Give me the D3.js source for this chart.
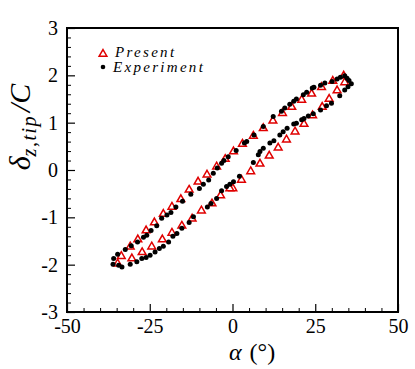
<!DOCTYPE html>
<html>
<head>
<meta charset="utf-8">
<script src="https://cdn.jsdelivr.net/npm/d3@7"></script>
<style>
  html, body { margin: 0; padding: 0; background: #fff; }
  svg { display: block; }
  svg text { font-family: "Liberation Serif", "Times New Roman", Times, "DejaVu Serif", serif; }
</style>
</head>
<body>
<svg id="chart" width="415" height="369"></svg>
<script>
// ---- Data ----
const xTicks = [-50, -25, 0, 25, 50];
const yTicks = [-3, -2, -1, 0, 1, 2, 3];

const presentAlpha = [-34.7, -33.6, -30.9, -28.6, -26.1, -23.6, -20.9, -18.3, -15.6, -13.1, -10.4, -7.7, -4.8, -2.2, 0.3, 3.0, 6.3, 9.3, 12.2, 15.1, 17.9, 20.9, 23.9, 26.9, 30.3, 33.6,
  33.9, 31.6, 29.2, 27.1, 24.2, 21.6, 18.9, 16.3, 13.8, 11.1, 8.3, 5.5, 2.7, 0.1, -0.8, -3.6, -6.2, -9.4, -12.2, -15.3, -18.3, -21.2, -24.4, -27.3, -30.4];
const presentDelta = [-1.98, -1.82, -1.62, -1.47, -1.28, -1.11, -0.93, -0.78, -0.62, -0.42, -0.25, -0.10, 0.07, 0.23, 0.39, 0.55, 0.72, 0.88, 1.04, 1.20, 1.33, 1.48, 1.61, 1.75, 1.88, 1.99,
  1.85, 1.68, 1.50, 1.33, 1.15, 0.97, 0.81, 0.64, 0.47, 0.30, 0.13, -0.03, -0.21, -0.39, -0.39, -0.54, -0.71, -0.86, -1.03, -1.18, -1.33, -1.47, -1.62, -1.74, -1.87];

const expAlpha = [-35.9, -34.7, -32.4, -30.6, -28.7, -26.9, -25.9, -24.6, -22.9, -21.4, -19.8, -18.6, -17.1, -15.1, -12.6, -10.0, -8.8, -7.2, -5.8, -4.6, -3.3, -2.6, -1.3, 1.1, 3.6, 4.3, 6.5, 9.3, 12.3, 14.8, 15.8, 17.3, 18.5, 19.3, 21.4, 22.4, 24.1, 24.6, 26.6, 27.9, 30.1, 31.6, 32.6, 33.9, 34.6, 35.2, 35.9,
  34.9, 33.9, 32.4, 29.9, 28.4, 26.6, 24.4, 22.9, 21.6, 20.9, 19.3, 18.5, 16.5, 15.3, 14.3, 12.5, 11.3, 9.3, 8.3, 7.8, 6.3, 2.1, 0.3, -0.8, -1.8, -3.3, -4.8, -6.5, -7.6, -11.8, -13.1, -15.3, -16.8, -18.0, -19.3, -20.9, -22.1, -23.4, -24.9, -26.1, -27.4, -28.9, -30.9, -33.4, -34.4, -36.1];
const expDelta = [-1.87, -1.78, -1.68, -1.60, -1.52, -1.42, -1.38, -1.28, -1.18, -1.02, -0.95, -0.90, -0.78, -0.66, -0.51, -0.39, -0.30, -0.21, -0.07, 0.04, 0.14, 0.20, 0.28, 0.41, 0.57, 0.60, 0.74, 0.92, 1.13, 1.24, 1.31, 1.39, 1.45, 1.50, 1.59, 1.64, 1.73, 1.75, 1.79, 1.84, 1.87, 1.92, 1.96, 1.99, 1.94, 1.89, 1.82,
  1.76, 1.69, 1.57, 1.41, 1.36, 1.27, 1.19, 1.14, 1.09, 1.06, 0.99, 0.97, 0.88, 0.81, 0.74, 0.62, 0.57, 0.46, 0.39, 0.32, 0.16, -0.13, -0.25, -0.30, -0.35, -0.44, -0.60, -0.71, -0.78, -0.99, -1.11, -1.23, -1.34, -1.40, -1.52, -1.61, -1.66, -1.73, -1.80, -1.85, -1.87, -1.94, -1.99, -2.05, -2.01, -1.99];

const seriesNames = ["Present", "Experiment"];

// ---- Layout ----
const svg = d3.select("#chart");
const L = 67, R = 398, T = 28, B = 312;
const x = d3.scaleLinear().domain([-50, 50]).range([L, R]);
const y = d3.scaleLinear().domain([-3, 3]).range([B, T]);
const fmt = d => String(d);

const xMinor = d3.range(-50, 50.001, 5);
const yMinor = d3.range(-3, 3.001, 0.2);

// Bottom axis (ticks inward)
const xAxis = d3.axisBottom(x).tickValues(xTicks).tickSize(-8).tickPadding(7).tickFormat(fmt);
const gx = svg.append("g").attr("transform", `translate(0,${B})`).call(xAxis).attr("font-family", null);
gx.select(".domain").remove();
gx.selectAll(".tick line").attr("stroke", "#000").attr("stroke-width", 1.2);
gx.selectAll(".tick text").attr("font-size", 20).attr("fill", "#000");
const gxm = svg.append("g").attr("transform", `translate(0,${B})`)
  .call(d3.axisBottom(x).tickValues(xMinor.filter(v => !xTicks.includes(Math.round(v)))).tickSize(-4).tickFormat(""));
gxm.select(".domain").remove();
gxm.selectAll(".tick line").attr("stroke", "#000").attr("stroke-width", 1);

// Left axis
const yAxis = d3.axisLeft(y).tickValues(yTicks).tickSize(-8).tickPadding(9).tickFormat(fmt);
const gy = svg.append("g").attr("transform", `translate(${L},0)`).call(yAxis).attr("font-family", null);
gy.select(".domain").remove();
gy.selectAll(".tick line").attr("stroke", "#000").attr("stroke-width", 1.2);
gy.selectAll(".tick text").attr("font-size", 20).attr("fill", "#000");
const gym = svg.append("g").attr("transform", `translate(${L},0)`)
  .call(d3.axisLeft(y).tickValues(yMinor.filter(v => Math.abs(v - Math.round(v)) > 0.01)).tickSize(-4).tickFormat(""));
gym.select(".domain").remove();
gym.selectAll(".tick line").attr("stroke", "#000").attr("stroke-width", 1);

// Frame
svg.append("rect").attr("x", L).attr("y", T).attr("width", R - L).attr("height", B - T)
  .attr("fill", "none").attr("stroke", "#000").attr("stroke-width", 2);

// Marks
const tri = d3.symbol().type(d3.symbolTriangle).size(26);
const present = presentAlpha.map((a, i) => ({ a, d: presentDelta[i] }));
const exper = expAlpha.map((a, i) => ({ a, d: expDelta[i] }));

svg.append("g").selectAll("path").data(present).join("path")
  .attr("d", tri)
  .attr("transform", p => `translate(${x(p.a)},${y(p.d)})`)
  .attr("fill", "#fff").attr("stroke", "#e00000").attr("stroke-width", 1.5);

svg.append("g").selectAll("circle").data(exper).join("circle")
  .attr("cx", p => x(p.a)).attr("cy", p => y(p.d)).attr("r", 2.5).attr("fill", "#000");

// Legend
const lg = svg.append("g");
lg.append("path").attr("d", tri).attr("transform", "translate(103,54)")
  .attr("fill", "#fff").attr("stroke", "#e00000").attr("stroke-width", 1.5);
lg.append("circle").attr("cx", 103).attr("cy", 67).attr("r", 2.3).attr("fill", "#000");
lg.append("text").attr("x", 115).attr("y", 57).text(seriesNames[0])
  .attr("font-style", "italic").attr("font-size", 15).attr("letter-spacing", 2.3);
lg.append("text").attr("x", 113).attr("y", 72).text(seriesNames[1])
  .attr("font-style", "italic").attr("font-size", 15).attr("letter-spacing", 2.3);

// X label: α (°)
const xl = svg.append("text").attr("x", 229).attr("y", 360)
  .attr("font-size", 24).attr("fill", "#000");
xl.append("tspan").attr("font-style", "italic").text("α");
xl.append("tspan").attr("dx", 8).text("(°)");

// Y label: δ_{z,tip}/C
const yl = svg.append("text").attr("transform", "translate(30,127) rotate(-90)")
  .attr("text-anchor", "middle")
  .attr("font-size", 30).attr("font-style", "italic").attr("fill", "#000");
yl.append("tspan").text("δ");
yl.append("tspan").attr("font-size", 20).attr("dy", 6).attr("letter-spacing", 1.5).text("z,tip");
yl.append("tspan").attr("dy", -6).attr("dx", 3).text("/C");
</script>
</body>
</html>
